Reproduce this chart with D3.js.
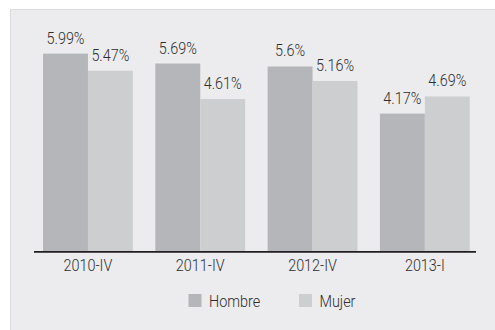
<!DOCTYPE html>
<html>
<head>
<meta charset="utf-8">
<script src="https://cdn.jsdelivr.net/npm/d3@7"></script>
<style>
  html, body { margin: 0; padding: 0; background: #ffffff; }
  svg { display: block; }
  text { font-family: Roboto, "Liberation Sans", sans-serif; font-weight: 300; fill: #2e2e2e; }
</style>
</head>
<body>
<svg id="chart" width="495" height="330"></svg>
<script>
// Tasa por trimestre, según sexo
const categories = ["2010-IV", "2011-IV", "2012-IV", "2013-I"];
const seriesNames = ["Hombre", "Mujer"];
const hombre = [5.99, 5.69, 5.6, 4.17];
const mujer = [5.47, 4.61, 5.16, 4.69];
const valueLabels = {
  Hombre: ["5.99%", "5.69%", "5.6%", "4.17%"],
  Mujer: ["5.47%", "4.61%", "5.16%", "4.69%"]
};

const colors = { Hombre: "#b5b6b9", Mujer: "#cdced0" };
const fontSize = 16;
const squeeze = "scale(0.9,1)";   // condensed look for all labels

const svg = d3.select("#chart");

// Panel background
svg.append("rect")
  .attr("x", 10.5).attr("y", 9.5)
  .attr("width", 490).attr("height", 330)
  .attr("fill", "#ececee")
  .attr("stroke", "#dcdcde")
  .attr("stroke-width", 1);

const x0 = d3.scaleBand()
  .domain(categories)
  .range([31.8, 481])
  .paddingInner(0.2)
  .paddingOuter(0.1);

const x1 = d3.scaleBand()
  .domain(seriesNames)
  .range([0, x0.bandwidth()]);

const y = d3.scaleLinear()
  .domain([0, 6])
  .range([251, 53.3]);

const rows = categories.map((c, i) => ({
  cat: c,
  values: [
    { key: "Hombre", value: hombre[i], label: valueLabels.Hombre[i] },
    { key: "Mujer", value: mujer[i], label: valueLabels.Mujer[i] }
  ]
}));

const groups = svg.append("g").selectAll("g")
  .data(rows)
  .join("g")
  .attr("transform", d => `translate(${x0(d.cat)},0)`);

groups.selectAll("rect")
  .data(d => d.values)
  .join("rect")
  .attr("x", d => x1(d.key))
  .attr("y", d => y(d.value))
  .attr("width", x1.bandwidth())
  .attr("height", d => y(0) - y(d.value))
  .attr("fill", d => colors[d.key]);

groups.selectAll("g.lbl")
  .data(d => d.values)
  .join("g")
  .attr("class", "lbl")
  .attr("transform", d => `translate(${x1(d.key) + x1.bandwidth() / 2},${y(d.value) - 10})`)
  .append("text")
  .attr("transform", squeeze)
  .attr("text-anchor", "middle")
  .attr("font-size", fontSize)
  .text(d => d.label);

// Category axis
const xAxis = d3.axisBottom(x0).tickSize(0).tickPadding(8);
const axisG = svg.append("g")
  .attr("transform", `translate(0,${y(0) + 0.8})`)
  .call(xAxis);
axisG.select(".domain")
  .attr("d", "M34,0H476")
  .attr("stroke", "#231f20")
  .attr("stroke-width", 1.8);
axisG.selectAll(".tick text")
  .attr("transform", squeeze)
  .attr("font-size", fontSize)
  .attr("font-family", "Roboto, Liberation Sans, sans-serif")
  .attr("font-weight", 300)
  .attr("fill", "#2e2e2e");

// Legend
const legendPos = [188.5, 299];
const legend = svg.append("g").selectAll("g")
  .data(seriesNames)
  .join("g")
  .attr("transform", (d, i) => `translate(${legendPos[i]},294)`);
legend.append("rect")
  .attr("width", 13).attr("height", 13)
  .attr("fill", d => colors[d]);
legend.append("g")
  .attr("transform", "translate(20.5,13)")
  .append("text")
  .attr("transform", squeeze)
  .attr("font-size", fontSize)
  .text(d => d);
</script>
</body>
</html>
